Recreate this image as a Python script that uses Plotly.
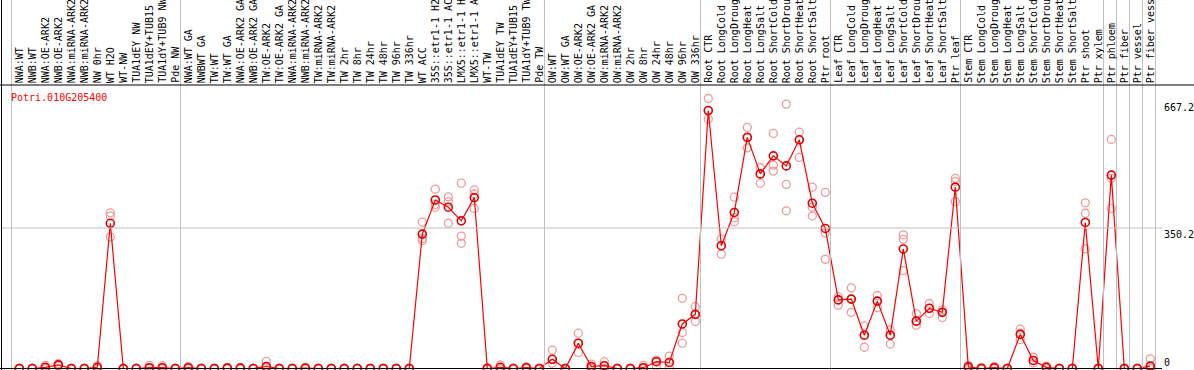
import plotly.graph_objects as go

gene = "Potri.010G205400"

labels = [
    "NWA:WT", "NWB:WT", "NWA:OE-ARK2", "NWB:OE-ARK2", "NWA:miRNA-ARK2", "NWB:miRNA-ARK2",
    "NW 0hr", "WT H2O", "WT-NW", "TUA1dEY NW", "TUA1dEY+TUB15", "TUA1dY+TUB9 NW", "Pde NW",
    "NWA:WT GA", "NWBWT GA", "TW:WT", "TW:WT GA", "NWA:OE-ARK2 GA", "NWB:OE-ARK2 GA",
    "TW:OE-ARK2", "TW:OE-ARK2 GA", "NWA:miRNA-ARK2", "NWB:miRNA-ARK2", "TW:miRNA-ARK2",
    "TW:miRNA-ARK2", "TW 2hr", "TW 8hr", "TW 24hr", "TW 48hr", "TW 96hr", "TW 336hr",
    "WT ACC", "35S::etr1-1 H2O", "35S::etr1-1 ACC", "LMX5::etr1-1 H2O", "LMX5::etr1-1 ACC",
    "WT-TW", "TUA1dEY TW", "TUA1dEY+TUB15", "TUA1dY+TUB9 TW", "Pde TW",
    "OW:WT", "OW:WT GA", "OW:OE-ARK2", "OW:OE-ARK2 GA", "OW:miRNA-ARK2", "OW:miRNA-ARK2",
    "OW 2hr", "OW 8hr", "OW 24hr", "OW 48hr", "OW 96hr", "OW 336hr",
    "Root CTR", "Root LongCold", "Root LongDrought", "Root LongHeat", "Root LongSalt",
    "Root ShortCold", "Root ShortDrought", "Root ShortHeat", "Root ShortSalt", "Ptr root",
    "Leaf CTR", "Leaf LongCold", "Leaf LongDrought", "Leaf LongHeat", "Leaf LongSalt",
    "Leaf ShortCold", "Leaf ShortDrought", "Leaf ShortHeat", "Leaf ShortSalt", "Ptr leaf",
    "Stem CTR", "Stem LongCold", "Stem LongDrought", "Stem LongHeat", "Stem LongSalt",
    "Stem ShortCold", "Stem ShortDrought", "Stem ShortHeat", "Stem ShortSalt", "Ptr shoot",
    "Ptr xylem", "Ptr phloem", "Ptr fiber", "Ptr vessel", "Ptr fiber vessel",
]

means = [
    0, 0, 3, 9, 0, 0, 3, 362, 0, 0, 2, 2, 0,
    2, 0, 0, 1, 1, 0, 5, 0, 0, 1, 0, 0, 0, 0, 0, 0, 0, 0,
    335, 420, 402, 368, 426, 0, 3, 0, 2, 0,
    23, 0, 63, 5, 7, 0, 0, 2, 17, 15, 111, 135,
    643, 306, 389, 576, 485, 530, 505, 570, 412, 349,
    171, 173, 83, 168, 83, 298, 118, 150, 140, 452,
    4, 0, 2, 0, 85, 20, 3, 0, 0, 364,
    0, 482, 0, 0, 6,
]

rep_a = [
    0, 0, 8, 12, 0, 0, 7, 388, 0, 0, 8, 7, 0,
    5, 0, 0, 3, 3, 0, 18, 0, 0, 3, 0, 0, 0, 0, 0, 0, 0, 0,
    365, 447, 428, 462, 445, 2, 9, 0, 4, 0,
    46, 0, 88, 11, 17, 0, 0, 8, 21, 31, 175, 154,
    673, 323, 427, 601, 501, 586, 659, 589, 452, 439,
    179, 201, 106, 182, 96, 333, 137, 162, 146, 474,
    8, 3, 5, 0, 98, 28, 6, 0, 0, 413,
    0, 571, 0, 0, 24,
]

rep_b = [
    0, 0, 3, 8, 0, 0, 3, 380, 0, 0, 2, 2, 0,
    2, 0, 0, 1, 1, 0, 4, 0, 0, 1, 0, 0, 0, 0, 0, 0, 0, 0,
    324, 409, 416, 330, 435, 0, 3, 0, 2, 0,
    23, 0, 63, 5, 7, 0, 0, 2, 17, 15, 90, 135,
    643, 306, 376, 576, 485, 507, 459, 570, 402, 338,
    171, 173, 83, 168, 83, 322, 118, 150, 140, 466,
    4, 0, 2, 0, 88, 20, 3, 0, 0, 387,
    0, 474, 0, 0, 6,
]

rep_c = [
    0, 0, 0, 6, 0, 0, 0, 328, 0, 0, 0, 0, 0,
    0, 0, 0, 0, 0, 0, 2, 0, 0, 0, 0, 0, 0, 0, 0, 0, 0, 0,
    319, 402, 362, 312, 399, 0, 0, 0, 0, 0,
    13, 0, 40, 0, 0, 0, 0, 0, 6, 3, 63, 117,
    622, 285, 366, 550, 462, 492, 393, 526, 380, 272,
    158, 140, 53, 152, 61, 244, 108, 137, 127, 416,
    0, 0, 0, 0, 72, 14, 0, 0, 0, 298,
    0, 399, 0, 0, 0,
]

group_starts = [0, 13, 41, 53, 63, 73, 84, 85, 86, 87, 88]
axis_ticks = [667.2, 350.2, 0]
axis_text = ["667.2", "350.2", "0"]

W, H = 1194, 370
x0_px, dx_px = 19.3, 13.0
zero_px = 368.5
k = 140.5 / 350.2
xmin = -x0_px / dx_px
xmax = (W - x0_px) / dx_px
ymin = -(H - zero_px) / k
ymax = zero_px / k

xs = list(range(len(labels)))
mono = "DejaVu Sans Mono"

fig = go.Figure()
for reps in (rep_a, rep_b, rep_c):
    fig.add_trace(go.Scatter(
        x=xs, y=reps, mode="markers",
        marker=dict(symbol="circle-open", size=8, color="#f09a9a", line=dict(width=1.3)),
        hoverinfo="skip", showlegend=False, cliponaxis=True,
    ))
fig.add_trace(go.Scatter(
    x=xs, y=means, mode="lines+markers",
    line=dict(color="#ff0000", width=1.2),
    marker=dict(symbol="circle-open", size=8, color="#e00000", line=dict(width=1.6)),
    showlegend=False,
))

shapes = []
for s in group_starts:
    b = s - 0.6
    shapes.append(dict(type="line", xref="x", yref="paper", x0=b, x1=b, y0=0, y1=1,
                       line=dict(color="#c0c0c0", width=1)))
shapes.append(dict(type="line", xref="paper", yref="y", x0=1 / W, x1=1162 / W,
                   y0=axis_ticks[1], y1=axis_ticks[1], line=dict(color="#c0c0c0", width=1)))
top_y = 1 - 85 / H
shapes.append(dict(type="line", xref="paper", yref="paper", x0=0, x1=1, y0=top_y, y1=top_y,
                   line=dict(color="black", width=1)))
shapes.append(dict(type="line", xref="paper", yref="paper", x0=1.5 / W, x1=1.5 / W, y0=0, y1=1,
                   line=dict(color="black", width=1)))
shapes.append(dict(type="line", xref="paper", yref="paper", x0=0, x1=1162 / W,
                   y0=1.5 / H, y1=1.5 / H, line=dict(color="black", width=1)))

annotations = []
lab_y = 1 - 84 / H
for i, lab in enumerate(labels):
    annotations.append(dict(x=i, y=lab_y, xref="x", yref="paper", text=lab, textangle=-90,
                            showarrow=False, xanchor="center", yanchor="bottom",
                            font=dict(family=mono, size=10, color="black"), borderpad=0))
annotations.append(dict(x=9 / W, y=1 - 97 / H, xref="paper", yref="paper", text=gene,
                        showarrow=False, xanchor="left", yanchor="middle",
                        font=dict(family=mono, size=10, color="#ff0000")))
for v, t in zip(axis_ticks, axis_text):
    annotations.append(dict(x=1163 / W, y=v, xref="paper", yref="y", text=t, showarrow=False,
                            xanchor="left", yanchor="bottom" if v == 0 else "top",
                            font=dict(family=mono, size=10, color="black"), borderpad=0))

fig.update_layout(
    width=W, height=H, margin=dict(l=0, r=0, t=0, b=0),
    paper_bgcolor="white", plot_bgcolor="white",
    xaxis=dict(range=[xmin, xmax], visible=False, fixedrange=True),
    yaxis=dict(range=[ymin, ymax], visible=False, fixedrange=True),
    shapes=shapes, annotations=annotations,
)
fig.write_html("out.html", config={"displayModeBar": False},
               post_script="document.body.style.margin='0';document.body.style.overflow='hidden';")
